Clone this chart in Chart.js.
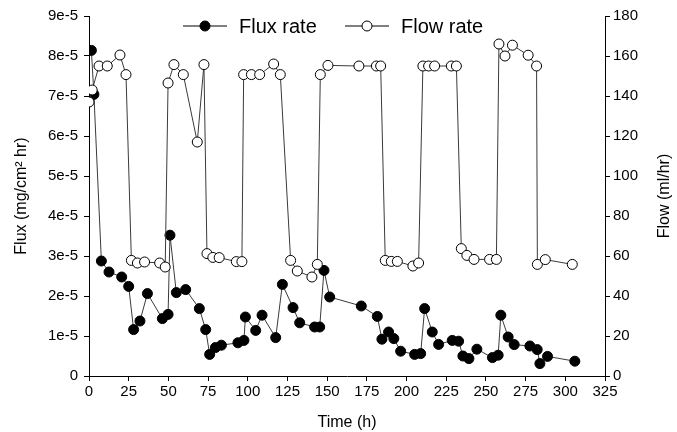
<!DOCTYPE html>
<html>
<head>
<meta charset="utf-8">
<script src="https://cdn.jsdelivr.net/npm/chart.js@4.4.0/dist/chart.umd.min.js"></script>
<style>
  html, body { margin: 0; padding: 0; background: #fff; }
  #wrap { width: 677px; height: 432px; }
</style>
</head>
<body>
<div id="wrap"><canvas id="fluxChart" width="677" height="432"></canvas></div>
<script>
// Flux rate (filled circles, left axis)
const fluxHours = [1.5, 3.1, 7.8, 12.6, 20.6, 25, 28.1, 32.1, 36.8, 46.2, 49.8, 51, 55, 60.9, 69.5, 73.5, 76, 79.6, 83.4,
    93.8, 97.6, 98.5, 105, 109, 117.6, 121.8, 128.5, 132.7, 142.1, 145.3, 148, 151.6, 171.5, 181.6, 184.5, 188.7,
    192, 196.3, 205.1, 208.9, 211.4, 216.2, 220.2, 228.8, 232.8, 235.5, 239.3, 244.3, 254.1, 257.7, 259.4, 264,
    267.8, 277.7, 282.3, 284, 288.8, 306];
const fluxRate = [8.14e-5, 7.04e-5, 2.875e-5, 2.6e-5, 2.475e-5, 2.24e-5, 1.16e-5, 1.375e-5, 2.06e-5, 1.435e-5, 1.54e-5,
    3.52e-5, 2.085e-5, 2.16e-5, 1.685e-5, 1.16e-5, 0.54e-5, 0.71e-5, 0.77e-5, 0.83e-5, 0.89e-5, 1.475e-5, 1.14e-5,
    1.52e-5, 0.96e-5, 2.29e-5, 1.71e-5, 1.33e-5, 1.225e-5, 1.225e-5, 2.64e-5, 1.975e-5, 1.75e-5, 1.49e-5, 0.92e-5,
    1.1e-5, 0.935e-5, 0.62e-5, 0.54e-5, 0.56e-5, 1.685e-5, 1.1e-5, 0.79e-5, 0.89e-5, 0.87e-5, 0.5e-5, 0.435e-5,
    0.67e-5, 0.46e-5, 0.52e-5, 1.52e-5, 0.975e-5, 0.785e-5, 0.75e-5, 0.66e-5, 0.31e-5, 0.49e-5, 0.37e-5];

// Flow rate (open circles, right axis)
const flowHours = [0, 2, 6.3, 11.5, 19.5, 23.3, 26.7, 30.5, 35, 44.5, 48, 49.8, 53.5, 59.4, 68.2, 72.4, 74.3, 78, 82,
    92.8, 96.3, 97.4, 102.3, 107.5, 116.3, 120.5, 127, 131.2, 140.4, 143.8, 145.7, 150.5, 170, 181, 183.7, 186.6,
    190.4, 194.2, 204, 207.6, 210.3, 213.9, 217.7, 228.2, 231.4, 234.5, 238, 242.5, 252.3, 256.6, 258.2, 262,
    266.7, 276.6, 281.9, 282.4, 287.4, 304.4];
const flowRate = [137, 143, 155, 155, 160.5, 150.7, 57.8, 56.5, 57, 56.5, 54.5, 146.5, 155.7, 150.7, 117, 155.7, 61.2,
    59.3, 59.2, 57.2, 57.2, 150.7, 150.7, 150.7, 156, 150.7, 57.8, 52.5, 49.5, 55.8, 150.7, 155.3, 155, 155, 155,
    57.8, 57.3, 57.3, 55, 56.5, 155, 155, 155, 155, 155, 63.7, 60.3, 58.3, 58.3, 58.3, 166, 160, 165.4, 160.4, 155,
    55.8, 58.2, 55.8];

const seriesNames = ['Flux rate', 'Flow rate'];
const FONT = 'Liberation Sans, Arial, sans-serif';

function toPoints(xs, ys) {
    return xs.map((x, i) => ({ x: x, y: ys[i] }));
}

// legend: line with marker through it, drawn at the top of the plot
const legendPlugin = {
    id: 'lineLegend',
    afterDraw(chart) {
        const ctx = chart.ctx;
        const area = chart.chartArea;
        const y = area.top + 10;
        const items = [
            { x: area.left + 94, fill: '#000' },
            { x: area.left + 256, fill: '#fff' }
        ];
        ctx.save();
        ctx.font = '20px ' + FONT;
        ctx.textBaseline = 'middle';
        items.forEach((it, i) => {
            ctx.strokeStyle = '#000';
            ctx.lineWidth = 1;
            ctx.beginPath();
            ctx.moveTo(it.x, y);
            ctx.lineTo(it.x + 44, y);
            ctx.stroke();
            ctx.beginPath();
            ctx.arc(it.x + 22, y, 5, 0, Math.PI * 2);
            ctx.fillStyle = it.fill;
            ctx.fill();
            ctx.stroke();
            ctx.fillStyle = '#000';
            ctx.fillText(seriesNames[i], it.x + 56, y + 1);
        });

        // right axis title, reading bottom to top like the left one
        ctx.font = '16px ' + FONT;
        ctx.textAlign = 'center';
        ctx.translate(chart.width - 12, (area.top + area.bottom) / 2);
        ctx.rotate(-Math.PI / 2);
        ctx.fillText('Flow (ml/hr)', 0, 0);
        ctx.restore();
    }
};

const ctx = document.getElementById('fluxChart').getContext('2d');

new Chart(ctx, {
    type: 'scatter',
    data: {
        datasets: [{
            label: seriesNames[1],
            data: toPoints(flowHours, flowRate),
            yAxisID: 'y1',
            showLine: true,
            borderColor: '#3a3a3a',
            borderWidth: 1,
            pointBackgroundColor: '#fff',
            pointBorderColor: '#000',
            pointBorderWidth: 1,
            pointRadius: 5,
            tension: 0
        }, {
            label: seriesNames[0],
            data: toPoints(fluxHours, fluxRate),
            yAxisID: 'y',
            showLine: true,
            borderColor: '#3a3a3a',
            borderWidth: 1,
            pointBackgroundColor: '#000',
            pointBorderColor: '#000',
            pointBorderWidth: 1,
            pointRadius: 5,
            tension: 0
        }]
    },
    options: {
        responsive: false,
        animation: false,
        layout: { padding: { top: 16, left: 0, right: 0, bottom: 0 } },
        plugins: {
            legend: { display: false },
            tooltip: { enabled: false }
        },
        scales: {
            x: {
                type: 'linear',
                min: 0,
                max: 325,
                afterFit: (scale) => { scale.height = 56; },
                ticks: {
                    stepSize: 25,
                    color: '#000',
                    font: { family: FONT, size: 15 },
                    padding: 2,
                    maxRotation: 0
                },
                grid: { drawOnChartArea: false, tickLength: 5, color: '#000' },
                border: { color: '#000', width: 1 },
                title: {
                    display: true,
                    text: 'Time (h)',
                    color: '#000',
                    font: { family: FONT, size: 16 },
                    padding: { top: 2, bottom: 0 }
                }
            },
            y: {
                position: 'left',
                min: 0,
                max: 9e-5,
                afterFit: (scale) => { scale.width = 89; },
                ticks: {
                    stepSize: 1e-5,
                    color: '#000',
                    font: { family: FONT, size: 15 },
                    padding: 6,
                    callback: (v) => {
                        const n = Math.round(v * 1e5);
                        return n === 0 ? '0' : n + 'e-5';
                    }
                },
                grid: { drawOnChartArea: false, tickLength: 5, color: '#000' },
                border: { color: '#000', width: 1 },
                title: {
                    display: true,
                    text: 'Flux (mg/cm² hr)',
                    color: '#000',
                    font: { family: FONT, size: 16 },
                    padding: { top: 12, bottom: 0 }
                }
            },
            y1: {
                position: 'right',
                min: 0,
                max: 180,
                afterFit: (scale) => { scale.width = 72; },
                ticks: {
                    stepSize: 20,
                    color: '#000',
                    font: { family: FONT, size: 15 },
                    padding: 3
                },
                grid: { drawOnChartArea: false, tickLength: 5, color: '#000' },
                border: { color: '#000', width: 1 }
            }
        }
    },
    plugins: [legendPlugin]
});
</script>
</body>
</html>
